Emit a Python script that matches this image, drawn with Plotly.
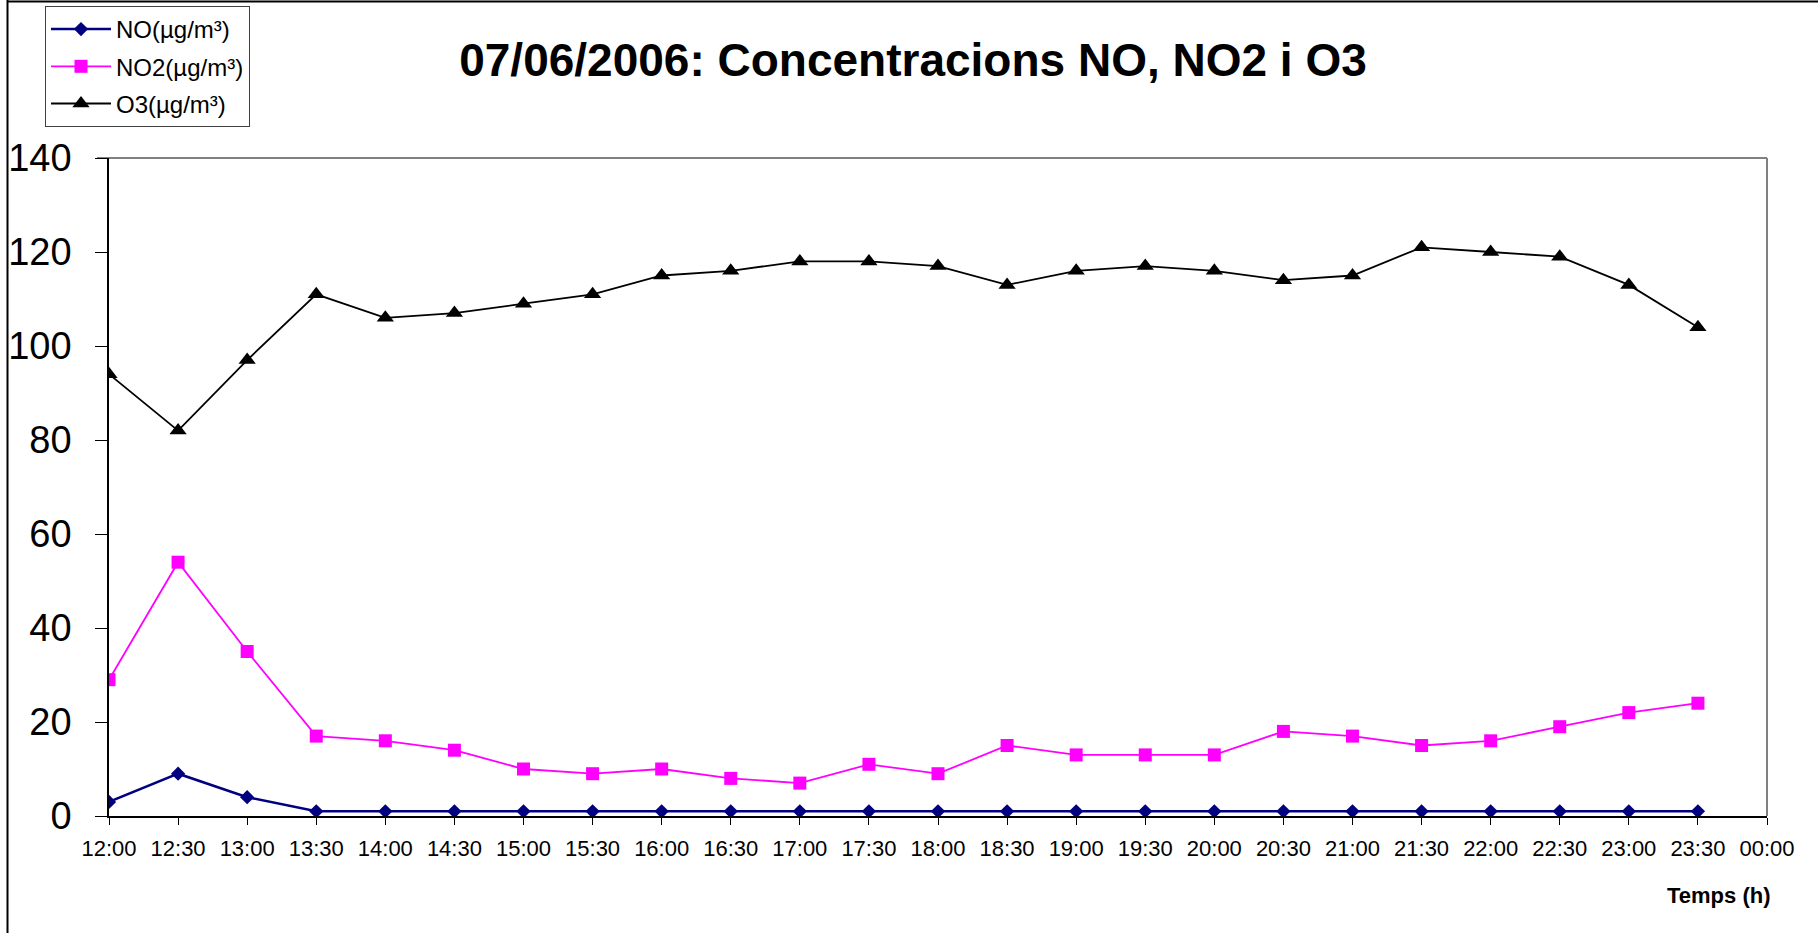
import plotly.graph_objects as go

# ---- data ----
categories = ["12:00", "12:30", "13:00", "13:30", "14:00", "14:30", "15:00", "15:30",
              "16:00", "16:30", "17:00", "17:30", "18:00", "18:30", "19:00", "19:30",
              "20:00", "20:30", "21:00", "21:30", "22:00", "22:30", "23:00", "23:30",
              "00:00"]
times = categories[:24]
no_vals = [3, 9, 4, 1, 1, 1, 1, 1, 1, 1, 1, 1, 1, 1, 1, 1, 1, 1, 1, 1, 1, 1, 1, 1]
no2_vals = [29, 54, 35, 17, 16, 14, 10, 9, 10, 8, 7, 11, 9, 15, 13, 13, 13, 18, 17, 15,
            16, 19, 22, 24]
o3_vals = [94, 82, 97, 111, 106, 107, 109, 111, 115, 116, 118, 118, 117, 113, 116, 117,
           116, 114, 115, 121, 120, 119, 113, 104]
y_ticks = [0, 20, 40, 60, 80, 100, 120, 140]

series_names = ["NO(µg/m³)", "NO2(µg/m³)", "O3(µg/m³)"]
title_text = "07/06/2006: Concentracions NO, NO2 i O3"
x_title = "Temps (h)"

FONT = "Liberation Sans, Arial, sans-serif"
W, H = 1818, 933
L, R, T, B = 109, 1767, 158, 816

fig = go.Figure()
fig.add_trace(go.Scatter(x=times, y=no_vals, name=series_names[0], mode="lines+markers",
                         line=dict(color="#000080", width=2.5),
                         marker=dict(symbol="diamond", size=11, color="#000080"),
                         legendgroup="a"))
fig.add_trace(go.Scatter(x=times, y=no2_vals, name=series_names[1], mode="lines+markers",
                         line=dict(color="#FF00FF", width=1.8),
                         marker=dict(symbol="square", size=13, color="#FF00FF"),
                         legendgroup="b"))
fig.add_trace(go.Scatter(x=times, y=o3_vals, name=series_names[2], mode="lines+markers",
                         line=dict(color="#000000", width=1.8),
                         marker=dict(symbol="triangle-up", size=15, color="#000000"),
                         legendgroup="c"))

pw, ph = R - L, B - T


def px(x):
    return (x - L) / pw


def py(y):
    return (B - y) / ph


fig.update_layout(
    width=W, height=H,
    margin=dict(l=L, r=W - R, t=T, b=H - B, autoexpand=False),
    paper_bgcolor="white", plot_bgcolor="white",
    font=dict(family=FONT, color="black"),
    showlegend=True,
    legend=dict(x=px(45), y=py(6), xanchor="left", yanchor="top",
                bgcolor="white", bordercolor="#404040", borderwidth=1,
                font=dict(size=24, family=FONT), tracegroupgap=3,
                itemwidth=60),
    title=dict(text="<b>" + title_text + "</b>", font=dict(size=46, family=FONT),
               x=(913) / W, xanchor="center", y=1 - 60 / H, yanchor="middle"),
    xaxis=dict(type="category", categoryorder="array", categoryarray=categories,
               range=[0, 24], tickmode="array", tickvals=categories, ticktext=categories,
               ticks="outside", ticklen=7, tickcolor="black", tickwidth=1,
               showline=True, linecolor="black", linewidth=1.5,
               showgrid=False, zeroline=False,
               tickfont=dict(size=22, family=FONT), ticklabelstandoff=5),
    yaxis=dict(range=[0, 140], tickmode="array", tickvals=y_ticks,
               ticks="outside", ticklen=12, tickcolor="black", tickwidth=1,
               showline=True, linecolor="black", linewidth=1.5,
               showgrid=False, zeroline=False,
               tickfont=dict(size=38, family=FONT), ticklabelstandoff=16),
    annotations=[dict(text="<b>" + x_title + "</b>", xref="paper", yref="paper",
                      x=px(1772), y=py(895), xanchor="right", yanchor="middle",
                      showarrow=False, font=dict(size=22, family=FONT))],
    shapes=[
        # plot area border (gray top and right)
        dict(type="line", xref="paper", yref="paper", x0=px(97), x1=1, y0=1, y1=1,
             line=dict(color="#808080", width=2), layer="below"),
        dict(type="line", xref="paper", yref="paper", x0=1, x1=1, y0=0, y1=1,
             line=dict(color="#808080", width=2), layer="below"),
        # outer chart border (top and left)
        dict(type="line", xref="paper", yref="paper", x0=px(7), x1=px(W + 5),
             y0=py(1.5), y1=py(1.5), line=dict(color="black", width=2)),
        dict(type="line", xref="paper", yref="paper", x0=px(7.5), x1=px(7.5),
             y0=py(0), y1=py(H + 5), line=dict(color="black", width=2)),
    ],
)

fig.write_html("out.html", config={"displayModeBar": False},
               post_script="document.body.style.margin='0';")
